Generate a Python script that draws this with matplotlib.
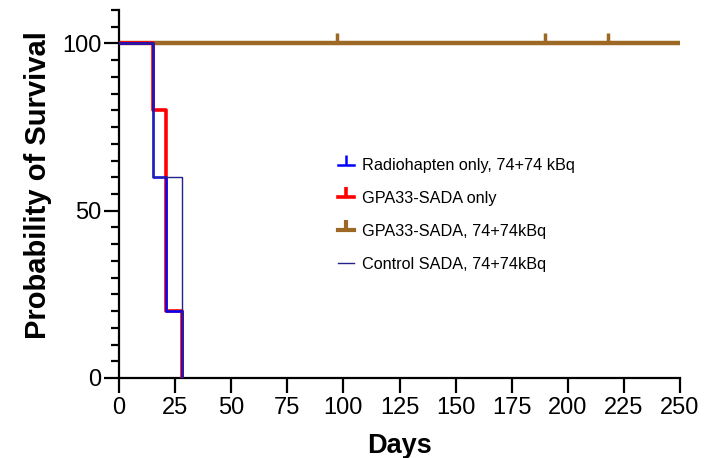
import matplotlib
matplotlib.use("Agg")
import matplotlib.pyplot as plt
from matplotlib.lines import Line2D
from matplotlib.ticker import MultipleLocator

plt.rcParams['font.family'] = ['Liberation Sans', 'DejaVu Sans']

# Data (Kaplan-Meier step curves)
radio_t = [0, 15, 21, 28]
radio_s = [100, 60, 20, 0]
gpa_only_t = [0, 15, 21, 28]
gpa_only_s = [100, 80, 20, 0]
gpa_treat_t = [0, 250]
gpa_treat_s = [100, 100]
gpa_treat_censor = [97, 190, 218]
ctrl_t = [0, 15, 28]
ctrl_s = [100, 60, 0]

labels = ["Radiohapten only, 74+74 kBq", "GPA33-SADA only",
          "GPA33-SADA, 74+74kBq", "Control SADA, 74+74kBq"]
x_ticks = [0, 25, 50, 75, 100, 125, 150, 175, 200, 225, 250]
y_ticks = [0, 50, 100]

c_blue = "#0000FF"
c_red = "#FF0000"
c_brown = "#9C6823"
c_navy = "#23238C"

fig = plt.figure(figsize=(7.06, 4.58), dpi=100)
ax = fig.add_axes([0.1686, 0.1747, 0.7946, 0.8035])

ax.step(gpa_treat_t, gpa_treat_s, where='post', color=c_brown, lw=3.2, zorder=2)
ax.plot(gpa_treat_censor, [100] * len(gpa_treat_censor), linestyle='none',
        marker=2, markersize=7, markeredgewidth=2.5, color=c_brown, zorder=2)
ax.step(gpa_only_t, gpa_only_s, where='post', color=c_red, lw=2.6, zorder=3)
ax.step(radio_t, radio_s, where='post', color=c_blue, lw=1.8, zorder=4)
ax.step(ctrl_t, ctrl_s, where='post', color=c_navy, lw=1.0, zorder=5)

ax.set_xlim(0, 250)
ax.set_ylim(0, 110)
ax.set_xticks(x_ticks)
ax.set_yticks(y_ticks)
ax.yaxis.set_minor_locator(MultipleLocator(5))

for s in ['top', 'right']:
    ax.spines[s].set_visible(False)
for s in ['left', 'bottom']:
    ax.spines[s].set_linewidth(1.6)

ax.tick_params(axis='both', which='major', length=10.5, width=1.6, labelsize=17, direction='out')
ax.tick_params(axis='y', which='minor', length=6, width=1.6, direction='out')
ax.tick_params(axis='x', pad=3)
ax.tick_params(axis='y', pad=2)

ax.set_xlabel("Days", fontsize=19.5, fontweight='bold', labelpad=10)
ax.set_ylabel("Probability of Survival", fontsize=21, fontweight='bold')
ax.yaxis.set_label_coords(-0.12, 0.524)

handles = [
    Line2D([], [], color=c_blue, lw=1.8, marker=2, markersize=7, markeredgewidth=1.8),
    Line2D([], [], color=c_red, lw=2.6, marker=2, markersize=7, markeredgewidth=2.6),
    Line2D([], [], color=c_brown, lw=3.0, marker=2, markersize=7, markeredgewidth=3.0),
    Line2D([], [], color=c_navy, lw=1.0),
]
leg = ax.legend(handles, labels, loc='upper left', bbox_to_anchor=(0.364, 0.637),
                frameon=False, fontsize=11.7, handlelength=1.0, handletextpad=0.5,
                labelspacing=1.1, numpoints=1, borderaxespad=0.5)

fig.savefig("out.png", dpi=100)
